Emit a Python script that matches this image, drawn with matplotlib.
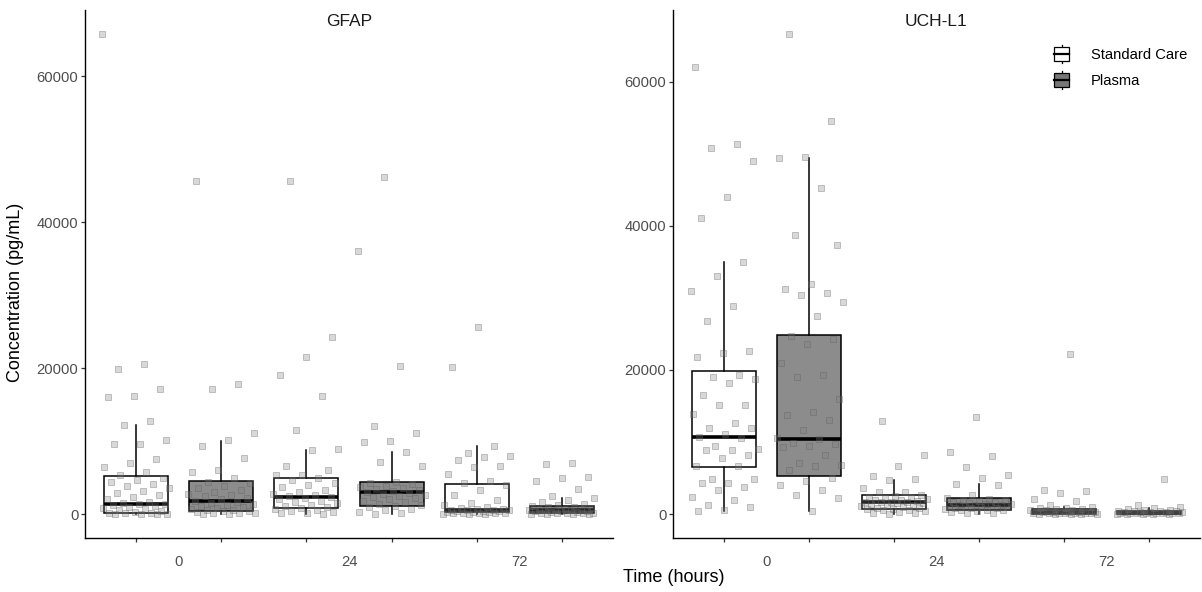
import numpy as np
import matplotlib
matplotlib.use("Agg")
import matplotlib.pyplot as plt
from matplotlib.patches import Rectangle
from matplotlib.lines import Line2D
from matplotlib.legend_handler import HandlerBase

plt.rcParams['font.family'] = ['Liberation Sans', 'DejaVu Sans']

# ---------------- data ----------------
panels = ["GFAP", "UCH-L1"]
time_labels = ["0", "24", "72"]
treatments = ["Standard Care", "Plasma"]
fill_colors = ["#ffffff", "#8c8c8c"]

# box order per panel: SC0, PL0, SC24, PL24, SC72, PL72
gfap_med = [1320, 1830, 2280, 3010, 550, 550]
gfap_q1 = [180, 410, 780, 1100, 230, 90]
gfap_q3 = [5200, 4480, 4980, 4340, 4110, 1100]
gfap_wlo = [0, 0, 50, 0, 10, 0]
gfap_whi = [12190, 10050, 8770, 8450, 9360, 2150]

uch_med = [10700, 10460, 1630, 1255, 230, 190]
uch_q1 = [6510, 5300, 700, 560, 40, 30]
uch_q3 = [19860, 24830, 2650, 2185, 650, 420]
uch_wlo = [470, 420, 0, 0, 0, 0]
uch_whi = [34970, 49500, 4740, 4185, 1020, 790]

gfap_sc0 = [65800, 20550, 19900, 17120, 16210, 15980, 12740, 12190, 10140, 9590, 9540, 7490, 6940, 6480,
            5700, 5300, 5000, 4700, 4400, 4100, 3800, 3500, 3200, 2900, 2600, 2300, 2000, 1700, 1500, 1400,
            1320, 1250, 1100, 950, 800, 650, 500, 400, 300, 200, 150, 100, 60, 30, 10, 0]
gfap_pl0 = [45620, 17760, 17120, 11140, 10140, 9360, 7625, 6030, 5750, 4885, 4450, 4200, 3900, 3600, 3300,
            3000, 2800, 2600, 2400, 2200, 2000, 1830, 1700, 1550, 1400, 1250, 1100, 950, 800, 700, 600, 500,
            420, 350, 280, 200, 150, 90, 40, 0]
gfap_sc24 = [45620, 24200, 21550, 19040, 16210, 11500, 8860, 8770, 6620, 6030, 5340, 5340, 4950, 4600, 4300,
             4000, 3700, 3290, 3000, 2800, 2600, 2400, 2283, 2150, 2000, 1850, 1700, 1500, 1300, 1100, 950,
             800, 700, 600, 450, 300, 200, 100, 50]
gfap_pl24 = [46170, 36070, 20320, 12100, 11050, 10045, 9910, 8450, 7170, 6620, 4340, 4200, 4050, 3900, 3750,
             3600, 3450, 3300, 3150, 3013, 2900, 2750, 2600, 2450, 2300, 2150, 2000, 1800, 1600, 1400, 1200,
             1096, 900, 700, 500, 300, 100, 0]
gfap_sc72 = [25660, 20090, 9360, 8310, 7945, 7760, 7397, 6575, 6484, 5433, 4566, 4290, 4000, 3290, 2600,
             1918, 1500, 1200, 1000, 850, 750, 650, 600, 560, 540, 500, 450, 400, 350, 300, 260, 230, 200,
             170, 140, 110, 80, 50, 30, 10]
gfap_pl72 = [7030, 6850, 5114, 4885, 4566, 3379, 2511, 2146, 1918, 1600, 1400, 1250, 1100, 1000, 900, 800,
             750, 700, 650, 600, 560, 530, 500, 450, 400, 350, 300, 250, 200, 150, 120, 100, 80, 60, 40, 20, 0]

uch_sc0 = [62140, 51440, 50840, 48990, 44050, 41060, 34970, 33080, 31000, 28830, 26740, 22650, 22320, 21760,
           19250, 19065, 18690, 18135, 16460, 15110, 15070, 13860, 12650, 12000, 11950, 11160, 10700, 10600,
           9390, 9020, 8930, 8835, 8140, 7765, 6600, 6600, 4930, 4930, 4370, 4370, 3720, 3350, 2325, 1953,
           1255, 1023, 560, 465]
uch_pl0 = [66660, 54530, 49590, 49500, 45210, 38750, 37370, 31930, 31240, 30690, 30450, 29390, 27530, 24740,
           24370, 23580, 21020, 19250, 19065, 16000, 14140, 13810, 13110, 11625, 10500, 10400, 9860, 9765,
           9390, 9300, 8230, 7070, 6835, 6600, 6140, 4975, 4600, 4045, 3350, 2650, 2185, 420]
uch_sc24 = [12880, 8230, 6600, 5210, 4840, 4740, 3580, 3115, 3115, 2650, 2500, 2400, 2300, 2200, 2100, 2000,
            1900, 1800, 1700, 1650, 1630, 1600, 1550, 1500, 1400, 1300, 1200, 1100, 1000, 900, 800, 700, 650,
            600, 500, 400, 300, 200, 100, 50]
uch_pl24 = [13440, 8560, 8000, 6460, 5440, 4975, 4185, 4045, 2650, 2185, 2100, 2000, 1900, 1800, 1700, 1600,
            1500, 1400, 1350, 1300, 1255, 1200, 1150, 1100, 1050, 1000, 950, 900, 850, 800, 700, 600, 560,
            500, 400, 300, 200, 100]
uch_sc72 = [22180, 3350, 3210, 2880, 2045, 1860, 1255, 1000, 900, 800, 700, 650, 600, 550, 500, 450, 400,
            350, 300, 270, 250, 230, 210, 190, 170, 150, 130, 110, 90, 70, 50, 30, 20, 10, 0]
uch_pl72 = [4880, 1255, 930, 790, 700, 600, 520, 460, 420, 390, 360, 330, 300, 270, 240, 220, 200, 190, 180,
            160, 140, 120, 100, 80, 60, 40, 20, 10, 0]

y_ticks = [0, 20000, 40000, 60000]

panel_stats = [
    (gfap_med, gfap_q1, gfap_q3, gfap_wlo, gfap_whi),
    (uch_med, uch_q1, uch_q3, uch_wlo, uch_whi),
]
panel_points = [
    [gfap_sc0, gfap_pl0, gfap_sc24, gfap_pl24, gfap_sc72, gfap_pl72],
    [uch_sc0, uch_pl0, uch_sc24, uch_pl24, uch_sc72, uch_pl72],
]

# ---------------- figure ----------------
W, H = 1202, 592
fig = plt.figure(figsize=(W / 100, H / 100), dpi=100)
ax_rects = [
    [85 / W, 1 - 538 / H, 528 / W, 528 / H],
    [673 / W, 1 - 538 / H, 527 / W, 528 / H],
]

positions = np.arange(6)
box_width = 0.75
jitter_width = 0.4
golden = 0.6180339887


class BoxKeyHandler(HandlerBase):
    def __init__(self, face):
        super().__init__()
        self.face = face

    def create_artists(self, legend, orig_handle, xdescent, ydescent, width, height, fontsize, trans):
        cx = width / 2 - xdescent
        cy = height / 2 - ydescent
        bw, bh = 11.0, 9.5
        arts = []
        arts.append(Line2D([cx, cx], [cy - height / 2, cy + height / 2], color='black', lw=0.9, transform=trans))
        arts.append(Rectangle((cx - bw / 2, cy - bh / 2), bw, bh, facecolor=self.face, edgecolor='black',
                              lw=0.9, transform=trans))
        arts.append(Line2D([cx - bw / 2, cx + bw / 2], [cy, cy], color='black', lw=1.6, transform=trans))
        return arts


for p, name in enumerate(panels):
    ax = fig.add_axes(ax_rects[p])
    med, q1, q3, wlo, whi = panel_stats[p]
    stats = []
    for i in range(6):
        stats.append(dict(med=med[i], q1=q1[i], q3=q3[i], whislo=wlo[i], whishi=whi[i], fliers=[]))
    for i in range(6):
        ax.bxp([stats[i]], positions=[positions[i]], widths=box_width, patch_artist=True,
               showcaps=False, showfliers=False, zorder=2,
               boxprops=dict(facecolor=fill_colors[i % 2], edgecolor='black', lw=1.1),
               medianprops=dict(color='black', lw=2.6, solid_capstyle='butt'),
               whiskerprops=dict(color='black', lw=1.1))
    # jittered points
    for i in range(6):
        vals = np.array(panel_points[p][i], dtype=float)
        n = len(vals)
        offs = (((np.arange(n) * golden + 0.13 * i + 0.07 * p) % 1.0) - 0.5) * 2 * jitter_width
        ax.scatter(positions[i] + offs, vals, marker='s', s=20,
                   facecolor=(0.5, 0.5, 0.5, 0.3), edgecolor=(0.35, 0.35, 0.35, 0.38),
                   linewidth=0.6, zorder=3)

    ymax = max(max(v) for v in panel_points[p])
    pad = 0.05 * ymax
    ax.set_ylim(-pad, ymax + pad)
    ax.set_xlim(-0.6, 5.6)

    for s in ['top', 'right']:
        ax.spines[s].set_visible(False)
    for s in ['left', 'bottom']:
        ax.spines[s].set_linewidth(1.0)
        ax.spines[s].set_color('black')

    ax.set_yticks(y_ticks)
    ax.set_yticklabels([str(t) for t in y_ticks])
    ax.set_xticks(positions)
    ax.set_xticklabels([''] * 6)
    ax.set_xticks([0.5, 2.5, 4.5], minor=True)
    ax.set_xticklabels(time_labels, minor=True)
    ax.tick_params(axis='both', which='major', length=2.8, width=0.9, color='#333333',
                   labelsize=10.6, labelcolor='#4d4d4d', pad=2)
    ax.tick_params(axis='x', which='minor', length=0, labelsize=10.6, labelcolor='#4d4d4d', pad=12.5)

    ax.text(0.5, 1 - 11 / 528, name, transform=ax.transAxes, ha='center', va='center',
            fontsize=12.5, color='#1a1a1a')

    if p == 1:
        handles = [Rectangle((0, 0), 1, 1), Rectangle((0, 0), 1, 1)]
        hmap = {handles[0]: BoxKeyHandler(fill_colors[0]), handles[1]: BoxKeyHandler('#777777')}
        fig.legend(handles, treatments, handler_map=hmap, loc='upper left',
                   bbox_to_anchor=(1050 / W, 1 - 45 / H), frameon=False, borderpad=0,
                   borderaxespad=0, handlelength=1.6, handleheight=1.5, handletextpad=1.2,
                   labelspacing=0.55, fontsize=10.6)

fig.text(674 / W, 1 - 578 / H, "Time (hours)", ha='center', va='center', fontsize=13, color='black')
fig.text(16 / W, 1 - 292 / H, "Concentration (pg/mL)", ha='center', va='center', rotation=90,
         fontsize=13, color='black')

fig.savefig("out.png", dpi=100)
